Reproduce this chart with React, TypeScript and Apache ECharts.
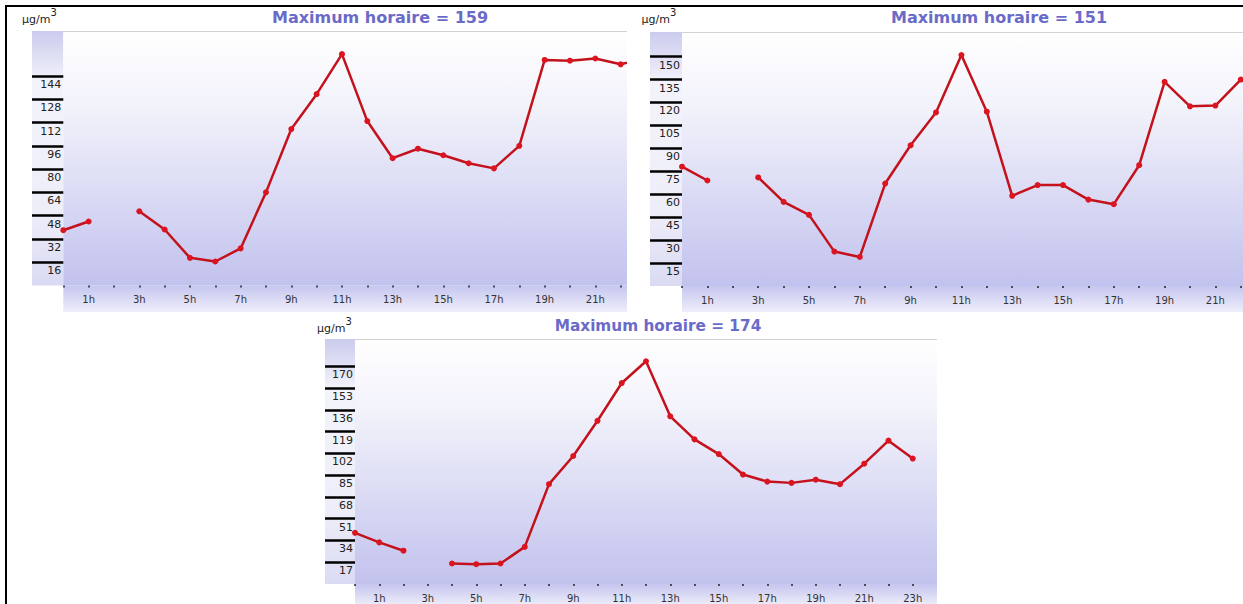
import React, { useEffect, useRef } from "react";
import * as echarts from "echarts";

// ---------- data ----------
const hourLabels = [
  "0h", "1h", "2h", "3h", "4h", "5h", "6h", "7h", "8h", "9h", "10h", "11h",
  "12h", "13h", "14h", "15h", "16h", "17h", "18h", "19h", "20h", "21h", "22h", "23h", "24h",
];

const valuesA = [38, 44, null, 51, 38.5, 19, 16.5, 25.5, 64, 107.5, 131.5, 159, 113, 87.5, 94, 89.5, 84, 80.5, 96, 155, 154.5, 156, 152, 156.5];
const valuesB = [78, 69, null, 71, 55, 46.5, 22.5, 19, 67, 92, 113.5, 151, 114, 59, 66, 66, 56.5, 53.5, 79, 133.5, 117.5, 118, 135, null];
const valuesC = [40, 32.5, 26, null, 16, 15.5, 16, 29, 78, 100, 127.5, 157, 174, 131, 113, 101.5, 85.5, 80, 79, 81.5, 78, 94, 112, 98];

const ticksA = [16, 32, 48, 64, 80, 96, 112, 128, 144];
const ticksB = [15, 30, 45, 60, 75, 90, 105, 120, 135, 150];
const ticksC = [17, 34, 51, 68, 85, 102, 119, 136, 153, 170];

const maxA = 159;
const maxB = 151;
const maxC = 174;

const titlePrefix = "Maximum horaire = ";
const unitMain = "µg/m";
const unitExp = "3";

// ---------- layout ----------
type Panel = {
  values: (number | null)[];
  ticks: number[];
  maxH: number;
  lastLabel: number;
  box: { left: number; top: number; width: number; height: number };
  grid: { left: number; top: number; width: number; height: number };
  stripLeft: number;
  bandH: number;
  title: { x: number; y: number; size: number };
  unit: { x: number; y: number };
  z: number;
};

const panels: Panel[] = [
  {
    values: valuesA, ticks: ticksA, maxH: maxA, lastLabel: 21,
    box: { left: 8, top: 7, width: 619, height: 306 },
    grid: { left: 55.3, top: 24, width: 608, height: 254.5 },
    stripLeft: 24, bandH: 26.5,
    title: { x: 372, y: 10, size: 16 },
    unit: { x: 14, y: 9 },
    z: 1,
  },
  {
    values: valuesB, ticks: ticksB, maxH: maxB, lastLabel: 21,
    box: { left: 627, top: 7, width: 616, height: 306 },
    grid: { left: 55, top: 25, width: 609.6, height: 254 },
    stripLeft: 23, bandH: 26,
    title: { x: 372, y: 10, size: 16 },
    unit: { x: 14.5, y: 9 },
    z: 2,
  },
  {
    values: valuesC, ticks: ticksC, maxH: maxC, lastLabel: 23,
    box: { left: 300, top: 313, width: 637, height: 291 },
    grid: { left: 55, top: 26, width: 582, height: 245 },
    stripLeft: 25, bandH: 22,
    title: { x: 358, y: 13, size: 15.3 },
    unit: { x: 17, y: 12 },
    z: 3,
  },
];

const vGrad = (stops: [number, string][]) =>
  new echarts.graphic.LinearGradient(0, 0, 0, 1, stops.map(([offset, color]) => ({ offset, color })));

function buildOption(p: Panel) {
  const g = p.grid;
  const yMax = p.maxH * 1.1;
  return {
    animation: false,
    backgroundColor: "#ffffff",
    grid: {
      left: g.left, top: g.top, width: g.width, height: g.height,
      show: true, borderWidth: 0,
      backgroundColor: vGrad([[0, "#ffffff"], [0.3, "#f2f2fb"], [1, "#c2c2ee"]]),
    },
    xAxis: {
      type: "category",
      data: hourLabels,
      boundaryGap: false,
      axisLine: { show: false },
      axisTick: {
        show: true,
        interval: (i: number) => i < 24,
        length: 2,
        lineStyle: { color: "#222", width: 1.5 },
      },
      axisLabel: {
        interval: (i: number) => i % 2 === 1 && i <= p.lastLabel,
        margin: 9,
        fontFamily: "DejaVu Sans",
        fontSize: 10,
        color: "#333",
      },
      splitLine: { show: false },
    },
    yAxis: {
      type: "value",
      min: 0,
      max: yMax,
      axisLine: { show: false },
      splitLine: { show: false },
      axisTick: {
        show: true,
        customValues: p.ticks,
        length: g.left - p.stripLeft,
        lineStyle: { color: "#000", width: 2.5 },
      },
      axisLabel: {
        customValues: p.ticks,
        margin: 2,
        verticalAlign: "top",
        padding: [3, 0, 0, 0],
        fontFamily: "DejaVu Sans",
        fontSize: 11,
        color: "#222",
      },
    },
    graphic: [
      {
        type: "rect", z: -10,
        shape: { x: p.stripLeft, y: g.top, width: g.left - p.stripLeft, height: g.height },
        style: { fill: vGrad([[0, "#cbcbee"], [0.2, "#f3f3fb"], [0.7, "#eeeef9"], [1, "#dadaf3"]]) },
      },
      {
        type: "rect", z: -10,
        shape: { x: g.left, y: g.top + g.height, width: g.width, height: p.bandH },
        style: { fill: vGrad([[0, "#c6c6f0"], [1, "#eeeefa"]]) },
      },
      {
        type: "line", z: 5,
        shape: { x1: g.left, y1: g.top + 0.5, x2: g.left + g.width, y2: g.top + 0.5 },
        style: { stroke: "#d2d2d2", lineWidth: 1 },
      },
      {
        type: "text", z: 10,
        x: p.title.x, y: p.title.y,
        style: {
          text: titlePrefix + p.maxH,
          align: "center",
          verticalAlign: "middle",
          fill: "#6a6ac8",
          font: `bold ${p.title.size}px "DejaVu Sans"`,
        },
      },
      {
        type: "text", z: 10,
        x: p.unit.x, y: p.unit.y,
        style: {
          text: `{a|${unitMain}}{b|${unitExp}}`,
          verticalAlign: "middle",
          rich: {
            a: { fontFamily: "DejaVu Sans", fontSize: 11, lineHeight: 18, verticalAlign: "bottom", fill: "#222" },
            b: { fontFamily: "DejaVu Sans", fontSize: 10, lineHeight: 12, verticalAlign: "top", fill: "#222" },
          },
        },
      },
    ],
    series: [
      {
        type: "line",
        data: p.values,
        connectNulls: false,
        symbol: "circle",
        symbolSize: 6,
        showSymbol: true,
        lineStyle: { color: "#c4121c", width: 2.5 },
        itemStyle: { color: "#dc1420" },
        z: 3,
      },
    ],
  };
}

function ChartPanel({ p }: { p: Panel }) {
  const ref = useRef<HTMLDivElement>(null);
  const innerW = Math.ceil(p.grid.left + p.grid.width + 10);
  useEffect(() => {
    if (!ref.current) return;
    const chart = echarts.init(ref.current, null, { renderer: "svg" });
    chart.setOption(buildOption(p) as any);
    return () => chart.dispose();
  }, [p]);
  return (
    <div
      style={{
        position: "absolute",
        left: p.box.left,
        top: p.box.top,
        width: p.box.width,
        height: p.box.height,
        background: "#fff",
        overflow: "hidden",
        zIndex: p.z,
      }}
    >
      <div ref={ref} style={{ position: "absolute", left: 0, top: 0, width: innerW, height: p.box.height }} />
    </div>
  );
}

export default function App() {
  return (
    <div
      style={{
        position: "fixed",
        left: 0,
        top: 0,
        width: 1243,
        height: 604,
        background: "#fff",
        overflow: "hidden",
      }}
    >
      {panels.map((p, i) => (
        <ChartPanel key={i} p={p} />
      ))}
      <div style={{ position: "absolute", left: 5, top: 5, width: 1238, height: 2, background: "#000", zIndex: 10 }} />
      <div style={{ position: "absolute", left: 5, top: 5, width: 2, height: 599, background: "#000", zIndex: 10 }} />
    </div>
  );
}
